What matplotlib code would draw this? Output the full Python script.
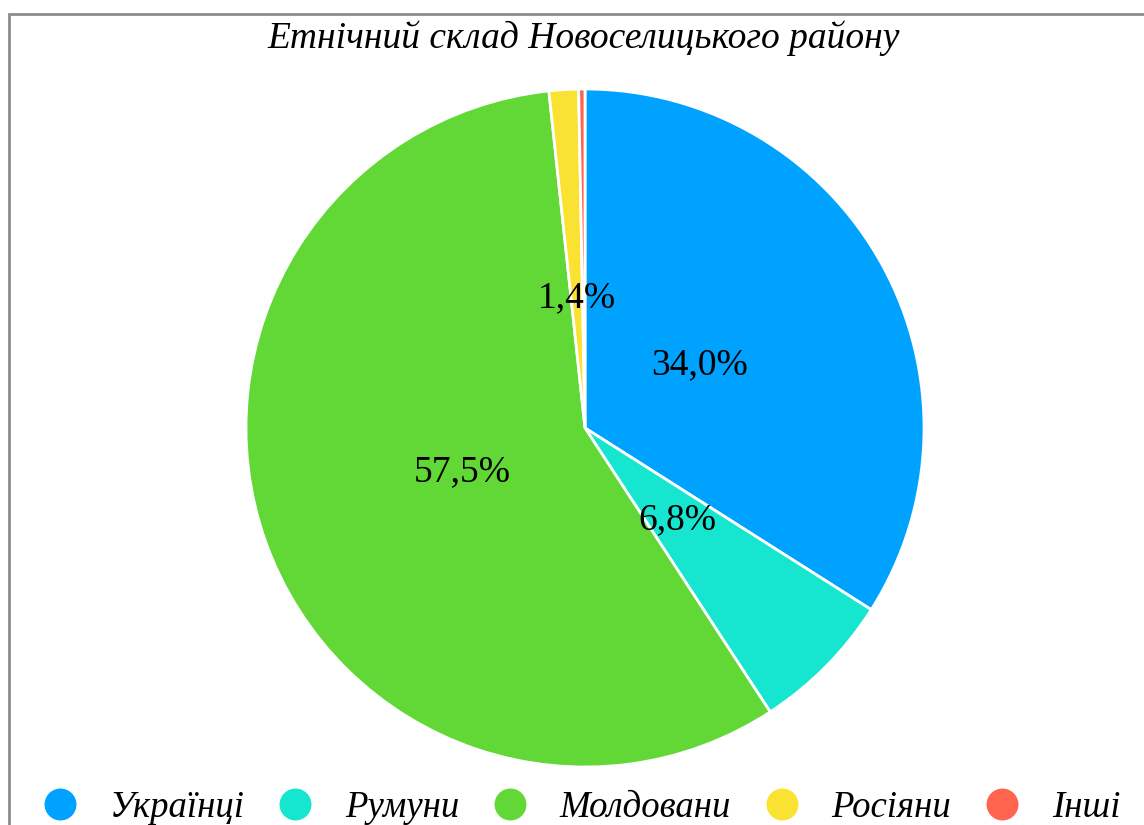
import matplotlib.pyplot as plt
from matplotlib.patches import Rectangle

labels = ["Українці", "Румуни", "Молдовани", "Росіяни", "Інші"]
values = [34.0, 6.8, 57.5, 1.4, 0.3]
colors = ["#00A2FF", "#16E6CF", "#61D836", "#FAE232", "#FF644E"]

plt.rcParams['font.family'] = ['Liberation Serif', 'DejaVu Serif']

fig = plt.figure(figsize=(11.44, 8.25), dpi=100)

# outer frame (right and bottom run off the canvas)
fig.patches.append(Rectangle((9 / 1144, -0.1), 1.2, (825 - 14) / 825 + 0.1,
                             transform=fig.transFigure, fill=False,
                             edgecolor='#8c8c8c', linewidth=2))

r = 338
pie_ax = fig.add_axes([(585 - r) / 1144, (825 - 428 - r) / 825, 2 * r / 1144, 2 * r / 825])
wedges, texts, autotexts = pie_ax.pie(
    values, colors=colors, startangle=90, counterclock=False,
    autopct=lambda p: (f"{p:.1f}%".replace('.', ',') if p >= 1 else ''),
    pctdistance=0.385,
    wedgeprops=dict(edgecolor='white', linewidth=2),
    textprops=dict(fontsize=27, color='black'))
pie_ax.set_aspect('auto')
pie_ax.set_xlim(-0.997, 0.997)
pie_ax.set_ylim(-0.997, 0.997)

fig.text(584 / 1144, 1 - 38 / 825, "Етнічний склад Новоселицького району",
         ha='center', va='center', fontsize=27, style='italic')

handles = [plt.Line2D([], [], marker='o', linestyle='', markersize=24,
                      markerfacecolor=c, markeredgecolor='white') for c in colors]
fig.legend(handles, labels, loc='center', bbox_to_anchor=(0.506, 1 - 808 / 825),
           ncol=5, frameon=False, prop=dict(style='italic', size=26.5),
           handletextpad=0.75, columnspacing=0.78, handlelength=1.2)

fig.savefig("out.png", dpi=100)
